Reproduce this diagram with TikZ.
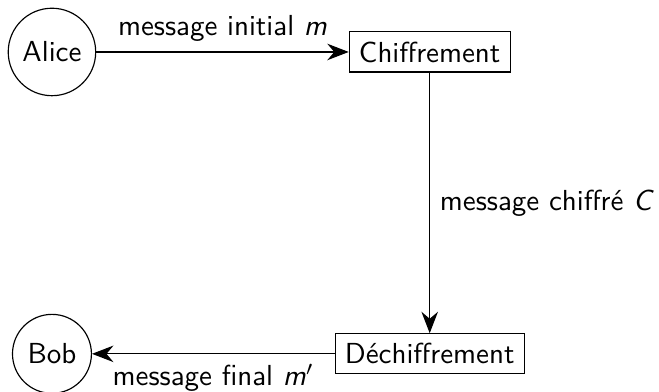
\documentclass[tikz,border=0pt]{standalone}
\usepackage{tikz}
\usetikzlibrary{arrows.meta,positioning,calc}
\usepackage{xcolor}
\usepackage{amsmath}
\tikzset{
  agent/.style={draw,circle},
  etape/.style={draw,rectangle},
  fleche/.style={-{Stealth[length=2.6mm,width=2mm]}}
}

\begin{document}
\begin{tikzpicture}[font=\sffamily]
\useasboundingbox (-0.63,-0.46) rectangle (7.36,4.29);
\node[agent] (alice) at (0,3.66) {Alice};
\node[etape] (chiff) at (4.58,3.66) {Chiffrement};
\node[etape] (dechiff) at (4.58,0) {Déchiffrement};
\node[agent] (bob) at (0,0) {Bob};
\draw[fleche] (alice) -- node[above] {message initial \textit{m}} (chiff);
\draw[fleche] (chiff) -- node[right] {message chiffré \textit{C}} (dechiff);
\draw[fleche] (dechiff) -- node[below] {message final \textit{m}$'$} (bob);
\end{tikzpicture}
\end{document}
